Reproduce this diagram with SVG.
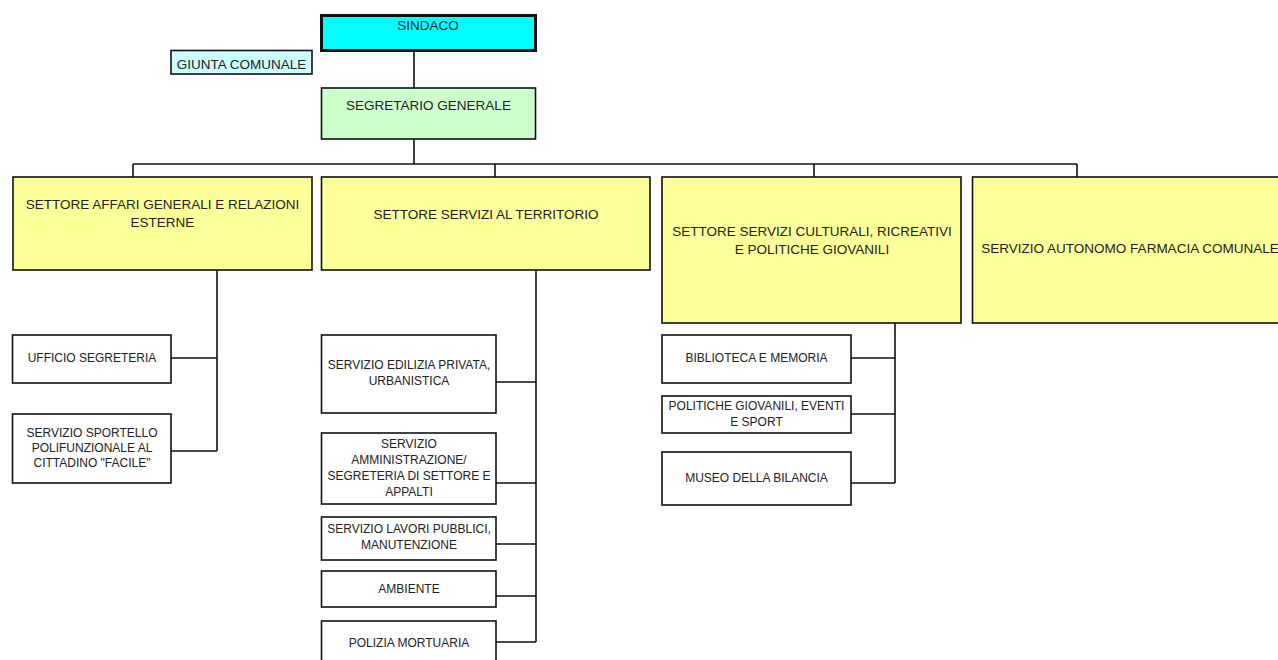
<svg xmlns="http://www.w3.org/2000/svg" width="1278" height="660" viewBox="0 0 1278 660">
<style>
.b{stroke:#111;stroke-width:1.6;}
.y{fill:#ffff99;}
.w{fill:#fff;}
.t{font-family:"Liberation Sans",Arial,sans-serif;fill:#222;text-anchor:middle;}
.L{font-size:13.5px;}
.s{font-size:12px;}
.c{fill:none;stroke:#111;stroke-width:1.6;}
</style>
<rect width="1278" height="660" fill="#fff"/>
<g id="connectors">
<path class="c" d="M414 50V88M414 139V164M133 164H1077M133 164V177M495 164V177M814 164V177M1077 164V177"/>
<path class="c" d="M217 270V451M171 358H217M171 451H217"/>
<path class="c" d="M536 270V642M496 382H536M496 483H536M496 544H536M496 596H536M496 642H536"/>
<path class="c" d="M895 323V483M851 358H895M851 414H895M851 483H895"/>
</g>
<g id="sindaco">
<rect x="321.5" y="15.5" width="214" height="35" fill="#00ffff" stroke="#111" stroke-width="3"/>
<text class="t L" x="428" y="30">SINDACO</text>
</g>
<g id="giunta">
<rect class="b" x="171" y="50.5" width="141" height="23.5" fill="#ccffff"/>
<text class="t L" x="241.5" y="69">GIUNTA COMUNALE</text>
</g>
<g id="segretario">
<rect class="b" x="321.5" y="88" width="214" height="51" fill="#ccffcc"/>
<text class="t L" x="428.5" y="110">SEGRETARIO GENERALE</text>
</g>
<g id="settore-affari">
<rect class="b y" x="13" y="177" width="299" height="93"/>
<text class="t L" x="162.5" y="209">SETTORE AFFARI GENERALI E RELAZIONI</text>
<text class="t L" x="162.5" y="227">ESTERNE</text>
</g>
<g id="settore-territorio">
<rect class="b y" x="321.5" y="177" width="328.5" height="93"/>
<text class="t L" x="486" y="219">SETTORE SERVIZI AL TERRITORIO</text>
</g>
<g id="settore-culturali">
<rect class="b y" x="662" y="177" width="299" height="146"/>
<text class="t L" x="812" y="236">SETTORE SERVIZI CULTURALI, RICREATIVI</text>
<text class="t L" x="812" y="254">E POLITICHE GIOVANILI</text>
</g>
<g id="farmacia">
<rect class="b y" x="972.5" y="177" width="320" height="146"/>
<text class="t L" x="1130" y="253">SERVIZIO AUTONOMO FARMACIA COMUNALE</text>
</g>
<g id="ufficio-segreteria">
<rect class="b w" x="12.5" y="335" width="158.5" height="48"/>
<text class="t s" x="92" y="362">UFFICIO SEGRETERIA</text>
</g>
<g id="sportello">
<rect class="b w" x="12.5" y="414" width="158.5" height="69"/>
<text class="t s" x="92" y="437">SERVIZIO SPORTELLO</text>
<text class="t s" x="92" y="452">POLIFUNZIONALE AL</text>
<text class="t s" x="92" y="467">CITTADINO "FACILE"</text>
</g>
<g id="edilizia">
<rect class="b w" x="321.5" y="335" width="174.5" height="78"/>
<text class="t s" x="409" y="369">SERVIZIO EDILIZIA PRIVATA,</text>
<text class="t s" x="409" y="385">URBANISTICA</text>
</g>
<g id="amministrazione">
<rect class="b w" x="321.5" y="433" width="174.5" height="71"/>
<text class="t s" x="409" y="448">SERVIZIO</text>
<text class="t s" x="409" y="464">AMMINISTRAZIONE/</text>
<text class="t s" x="409" y="480">SEGRETERIA DI SETTORE E</text>
<text class="t s" x="409" y="496">APPALTI</text>
</g>
<g id="lavori-pubblici">
<rect class="b w" x="321.5" y="517" width="174.5" height="43"/>
<text class="t s" x="409" y="533">SERVIZIO LAVORI PUBBLICI,</text>
<text class="t s" x="409" y="549">MANUTENZIONE</text>
</g>
<g id="ambiente">
<rect class="b w" x="321.5" y="571" width="174.5" height="36"/>
<text class="t s" x="409" y="593">AMBIENTE</text>
</g>
<g id="polizia-mortuaria">
<rect class="b w" x="321.5" y="621" width="174.5" height="50"/>
<text class="t s" x="409" y="647">POLIZIA MORTUARIA</text>
</g>
<g id="biblioteca">
<rect class="b w" x="662" y="335" width="189" height="48"/>
<text class="t s" x="756.5" y="362">BIBLIOTECA E MEMORIA</text>
</g>
<g id="politiche-giovanili">
<rect class="b w" x="662" y="396" width="189" height="37"/>
<text class="t s" x="756.5" y="410">POLITICHE GIOVANILI, EVENTI</text>
<text class="t s" x="756.5" y="426">E SPORT</text>
</g>
<g id="museo">
<rect class="b w" x="662" y="452" width="189" height="53"/>
<text class="t s" x="756.5" y="482">MUSEO DELLA BILANCIA</text>
</g>
</svg>
